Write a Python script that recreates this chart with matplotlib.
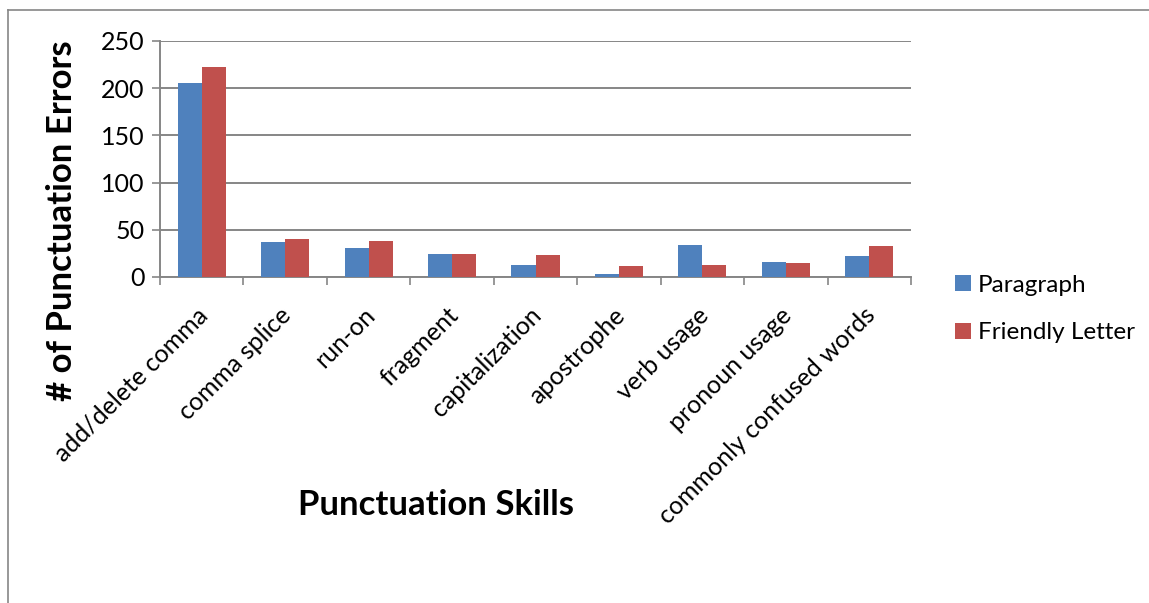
import numpy as np
import matplotlib.pyplot as plt
from matplotlib.lines import Line2D

# data
skills = ["add/delete comma", "comma splice", "run-on", "fragment", "capitalization",
          "apostrophe", "verb usage", "pronoun usage", "commonly confused words"]
paragraph = [205, 37, 31, 24, 13, 3, 34, 16, 22]
friendly_letter = [222, 40, 38, 24, 23, 12, 13, 15, 33]
yticks = [0, 50, 100, 150, 200, 250]

plt.rcParams['font.family'] = ['Lato', 'DejaVu Sans']

fig = plt.figure(figsize=(11.49, 6.03), dpi=100)
ax = fig.add_axes([160 / 1149, 1 - 277 / 603, 751 / 1149, 236 / 603])

x = np.arange(len(skills))
w = 0.288
ax.bar(x - w / 2, paragraph, w, color="#4f81bd", label="Paragraph", zorder=3)
ax.bar(x + w / 2, friendly_letter, w, color="#c0504d", label="Friendly Letter", zorder=3)

ax.set_xlim(-0.5, len(skills) - 0.5)
ax.set_ylim(0, 250)
ax.set_yticks(yticks)
ax.tick_params(axis='y', labelsize=18, length=6, color="#868686", width=1.2, pad=5)
ax.yaxis.grid(True, color="#868686", linewidth=1.4, zorder=0)

# category boundary ticks on x axis
ax.set_xticks(np.arange(len(skills) + 1) - 0.5)
ax.set_xticklabels([])
ax.tick_params(axis='x', length=6, color="#868686", width=1.2)
for i, s in enumerate(skills):
    ax.text(i - 0.07, -28, s, rotation=45, ha='right', va='top', rotation_mode='anchor',
            fontsize=18, transform=ax.transData)

for side in ["top", "right"]:
    ax.spines[side].set_visible(False)
ax.spines["left"].set_color("#868686")
ax.spines["left"].set_linewidth(1.4)
ax.spines["bottom"].set_color("#868686")
ax.spines["bottom"].set_linewidth(1.4)

fig.text(62 / 1149, 1 - 221 / 603, "# of Punctuation Errors", rotation=90, fontsize=25,
         fontweight='bold', ha='center', va='center')
fig.text(436 / 1149, 1 - 505 / 603, "Punctuation Skills", fontsize=25, fontweight='bold',
         ha='center', va='center')

ax.legend(loc='center left', bbox_to_anchor=(0.831, 1 - 309 / 603), bbox_transform=fig.transFigure,
          frameon=False, fontsize=17.5, handlelength=0.65, handleheight=0.65,
          labelspacing=1.1, handletextpad=0.3, borderaxespad=0, borderpad=0)

# outer chart border
fig.add_artist(Line2D([8 / 1149, 8 / 1149], [0, 1 - 10 / 603], color="#868686", lw=1.2))
fig.add_artist(Line2D([8 / 1149, 1], [1 - 10 / 603, 1 - 10 / 603], color="#868686", lw=1.2))

fig.savefig("out.png", dpi=100)
